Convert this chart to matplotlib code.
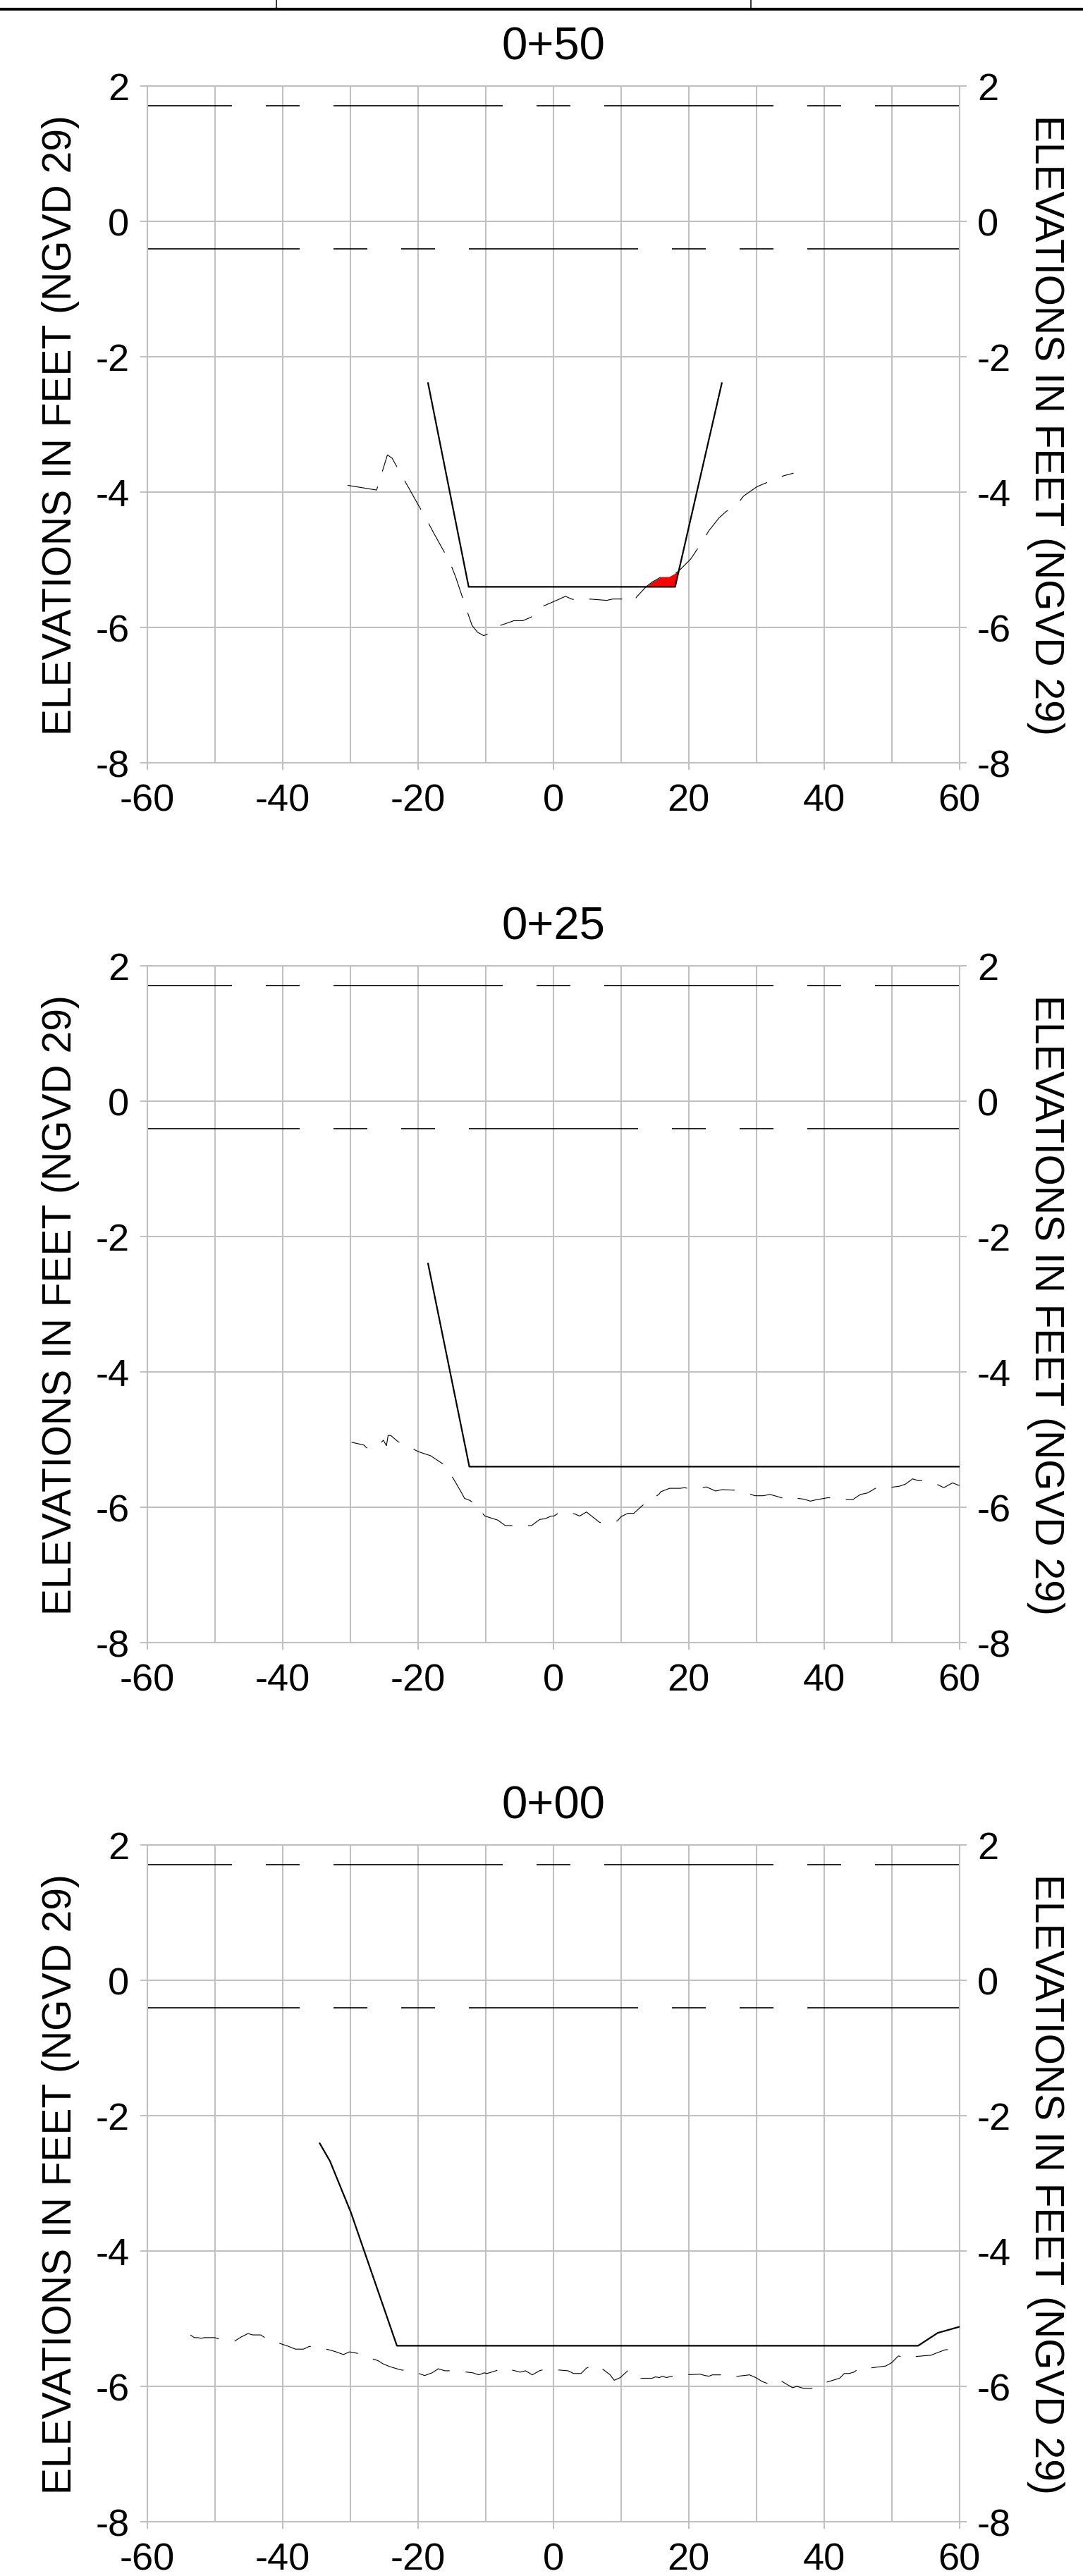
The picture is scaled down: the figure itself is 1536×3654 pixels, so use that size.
import numpy as np
import matplotlib
matplotlib.use("Agg")
import matplotlib.pyplot as plt
from matplotlib.lines import Line2D
from matplotlib.ticker import MultipleLocator

plt.rcParams['font.family'] = ['Liberation Sans', 'DejaVu Sans']
plt.rcParams['axes.unicode_minus'] = False
plt.rcParams['lines.scale_dashes'] = False

# station labels, top to bottom
stations = ['0+50', '0+25', '0+00']

# reference water levels (ft)
upper_level = 1.71
lower_level = -0.41

# 0+50 design template and survey
design1_x = [-18.5, -12.5, 18.0, 24.9]
design1_y = [-2.39, -5.40, -5.40, -2.39]
survey1_x = [-30.4, -26.1, -24.5, -23.8, -22.6, -21.4, -20.0, -18.9, -17.8, -15.3,
             -14.4, -12.8, -12.0, -11.2, -10.3, -9.3, -8.1, -5.8, -4.5, -3.3,
             -2.4, -1.6, 0.7, 1.8, 2.7, 3.9, 5.3, 7.9, 8.8, 10.7,
             12.0, 12.3, 13.7, 14.6, 16.0, 17.1, 18.5, 20.3, 21.3, 23.0,
             24.5, 25.5, 27.2, 28.1, 30.1, 32.5, 34.0, 35.5]
survey1_y = [-3.90, -3.97, -3.45, -3.50, -3.72, -3.93, -4.18, -4.37, -4.58, -5.03,
             -5.26, -5.74, -5.97, -6.07, -6.12, -6.09, -5.98, -5.90, -5.90, -5.85,
             -5.75, -5.69, -5.59, -5.54, -5.58, -5.61, -5.58, -5.60, -5.58, -5.58,
             -5.61, -5.55, -5.40, -5.33, -5.25, -5.25, -5.17, -4.99, -4.84, -4.57,
             -4.38, -4.29, -4.18, -4.06, -3.92, -3.82, -3.76, -3.72]

# 0+25
design2_x = [-18.5, -12.4, 60.0]
design2_y = [-2.40, -5.40, -5.40]
survey2_x = [-29.8, -28.0, -27.5, -25.6, -25.1, -24.65, -24.4, -24.0, -22.95, -20.7,
             -19.9, -18.1, -16.3, -14.8, -13.7, -13.1, -12.3, -11.8, -10.1, -8.2,
             -7.1, -5.6, -3.2, -2.0, -1.2, -0.3, 0.1, 1.2, 3.2, 3.9,
             4.9, 6.8, 7.4, 9.5, 10.0, 11.0, 11.9, 13.1, 13.5, 15.6,
             15.9, 17.2, 18.8, 19.4, 20.2, 22.6, 24.0, 24.9, 27.4, 29.8,
             31.0, 32.0, 34.1, 34.6, 37.0, 38.0, 38.8, 39.4, 40.5, 41.0,
             41.8, 44.2, 45.4, 46.4, 47.6, 48.8, 51.1, 52.0, 53.1, 54.0,
             54.7, 55.6, 57.7, 59.0, 60.0]
survey2_y = [-5.04, -5.08, -5.13, -5.06, -5.01, -5.09, -4.94, -4.94, -5.03, -5.14,
             -5.18, -5.24, -5.36, -5.57, -5.76, -5.87, -5.90, -5.94, -6.13, -6.19,
             -6.27, -6.27, -6.27, -6.18, -6.17, -6.13, -6.13, -6.06, -6.10, -6.13,
             -6.07, -6.22, -6.24, -6.20, -6.14, -6.09, -6.09, -5.98, -5.95, -5.81,
             -5.77, -5.72, -5.72, -5.71, -5.73, -5.70, -5.76, -5.74, -5.75, -5.83,
             -5.83, -5.81, -5.87, -5.85, -5.88, -5.91, -5.89, -5.88, -5.86, -5.86,
             -5.88, -5.89, -5.81, -5.79, -5.72, -5.72, -5.69, -5.66, -5.58, -5.61,
             -5.60, -5.61, -5.71, -5.64, -5.68]

# 0+00
design3_x = [-34.5, -33.0, -29.9, -23.1, 53.9, 56.8, 60.0]
design3_y = [-2.41, -2.67, -3.43, -5.40, -5.40, -5.21, -5.12]
survey3_x = [-53.6, -53.05, -52.5, -52.0, -51.6, -50.0, -49.4,
             -47.05, -46.1, -45.1, -44.4, -43.2, -42.5,
             -40.3, -39.35, -38.1, -36.9, -36.05, -35.5,
             -33.1, -32.1, -31.0, -30.1, -29.0, -28.3,
             -25.9, -25.1, -24.1, -23.1, -22.35, -21.3,
             -19.0, -17.9, -17.0, -16.0, -14.4,
             -11.9, -11.0, -10.2, -9.8, -8.8, -8.2, -7.8, -7.15,
             -4.9, -4.1, -3.1, -2.05, -1.35, -0.2,
             2.2, 3.0, 4.1, 4.9, 5.9, 6.6,
             8.4, 9.0, 9.9, 11.0, 12.1,
             14.6, 15.1, 15.7, 16.1, 16.7, 17.6, 18.3, 19.3,
             21.7, 22.4, 23.0, 23.5, 25.2, 26.1, 26.5,
             29.0, 29.9, 30.9, 32.0, 32.9, 33.5,
             35.35, 36.0, 37.0, 38.1, 39.0, 40.0,
             42.3, 43.0, 43.7, 44.4, 45.4, 46.2, 46.7,
             49.1, 50.0, 51.0, 51.6, 52.2, 53.0, 53.4,
             55.8, 56.8, 57.9, 60.0]
survey3_y = [-5.24, -5.28, -5.28, -5.29, -5.28, -5.28, -5.30,
             -5.33, -5.27, -5.22, -5.24, -5.24, -5.29,
             -5.37, -5.40, -5.45, -5.45, -5.41, -5.41,
             -5.46, -5.49, -5.53, -5.49, -5.51, -5.54,
             -5.62, -5.67, -5.71, -5.74, -5.76, -5.76,
             -5.84, -5.80, -5.74, -5.77, -5.77,
             -5.80, -5.83, -5.80, -5.81, -5.78, -5.76, -5.73, -5.73,
             -5.79, -5.77, -5.83, -5.77, -5.75, -5.75,
             -5.77, -5.81, -5.81, -5.73, -5.69, -5.69,
             -5.83, -5.91, -5.87, -5.77, -5.88,
             -5.88, -5.86, -5.87, -5.85, -5.87, -5.85, -5.85, -5.83,
             -5.82, -5.84, -5.85, -5.83, -5.83, -5.86, -5.86,
             -5.83, -5.87, -5.93, -5.97, -5.91, -5.91,
             -6.02, -6.00, -6.03, -6.03, -6.02, -5.95,
             -5.88, -5.81, -5.81, -5.79, -5.72, -5.72, -5.73,
             -5.70, -5.65, -5.55, -5.57, -5.58, -5.55, -5.56,
             -5.54, -5.50, -5.46, -5.44]

designs = [(design1_x, design1_y), (design2_x, design2_y), (design3_x, design3_y)]
surveys = [(survey1_x, survey1_y), (survey2_x, survey2_y), (survey3_x, survey3_y)]
survey_offsets = [0, 16.5, 3.6]   # dash phase per panel (pt)

W, H, DPI = 1536, 3655, 100
fig = plt.figure(figsize=(W / DPI, H / DPI), dpi=DPI)

left_px, right_px = 208.7, 1360.7
tops_px = [123, 1371, 2618]
height_px = 960
grid_c = '#c0c0c0'
label = 'ELEVATIONS IN FEET (NGVD 29)'

# points per data unit along x, for dash patterns of the level lines
ppu = (right_px - left_px) / DPI * 72 / 120.0

for i in range(3):
    ax = fig.add_axes([left_px / W, 1 - (tops_px[i] + height_px) / H,
                       (right_px - left_px) / W, height_px / H])
    ax.set_xlim(-60, 60)
    ax.set_ylim(-8, 2)
    ax.xaxis.set_major_locator(MultipleLocator(20))
    ax.xaxis.set_minor_locator(MultipleLocator(10))
    ax.yaxis.set_major_locator(MultipleLocator(2))
    ax.set_axisbelow(True)
    ax.grid(True, axis='x', which='both', color=grid_c, lw=1.5)
    ax.grid(True, axis='y', which='major', color=grid_c, lw=1.5)
    for s in ax.spines.values():
        s.set_color(grid_c)
        s.set_linewidth(1.5)
    ax.tick_params(which='major', direction='out', length=7.2, width=1.5,
                   color=grid_c, labelsize=39)
    ax.tick_params(axis='x', which='minor', length=0)
    ax.tick_params(axis='x', pad=13)
    ax.tick_params(axis='y', pad=11, left=True, right=True,
                   labelleft=True, labelright=True)

    # water level lines
    ax.plot([-60, 60], [upper_level, upper_level], color='black', lw=1.2,
            ls=(12.5 * ppu, (25 * ppu, 5 * ppu, 5 * ppu, 5 * ppu)))
    ax.plot([-60, 60], [lower_level, lower_level], color='black', lw=1.2,
            ls=(2.5 * ppu, (25 * ppu, 5 * ppu, 5 * ppu, 5 * ppu, 5 * ppu, 5 * ppu)))

    dx, dy = designs[i]
    sx, sy = surveys[i]

    # dredge area: survey above design template
    lo = max(min(dx), min(sx))
    hi = min(max(dx), max(sx))
    xs = np.unique(np.concatenate([sx, dx]))
    xs = xs[(xs >= lo) & (xs <= hi)]
    s_i = np.interp(xs, sx, sy)
    d_i = np.interp(xs, dx, dy)
    ax.fill_between(xs, d_i, s_i, where=s_i > d_i, interpolate=True,
                    color='red', lw=0, zorder=2)

    ax.plot(dx, dy, color='black', lw=1.6, zorder=3)
    ax.plot(sx, sy, color='black', lw=0.8, zorder=3,
            ls=(survey_offsets[i], (33.8, 16.2)))

    ax.set_title(stations[i], fontsize=47, pad=28)
    ax.set_ylabel(label, fontsize=41)
    ax.yaxis.set_label_coords((113.5 - left_px) / (right_px - left_px), 0.5)
    ax.text((1468 - left_px) / (right_px - left_px), 0.5, label,
            transform=ax.transAxes, rotation=-90, rotation_mode='anchor',
            ha='center', va='baseline', fontsize=41)

# header rule at the top of the sheet
fig.add_artist(Line2D([0, 1], [1 - 14 / H, 1 - 14 / H], color='black', lw=2.9,
                      transform=fig.transFigure))
for xp in [392, 1065]:
    fig.add_artist(Line2D([xp / W, xp / W], [1, 1 - 14 / H], color='black', lw=1.1,
                          transform=fig.transFigure))

fig.savefig('out.png', dpi=DPI)
